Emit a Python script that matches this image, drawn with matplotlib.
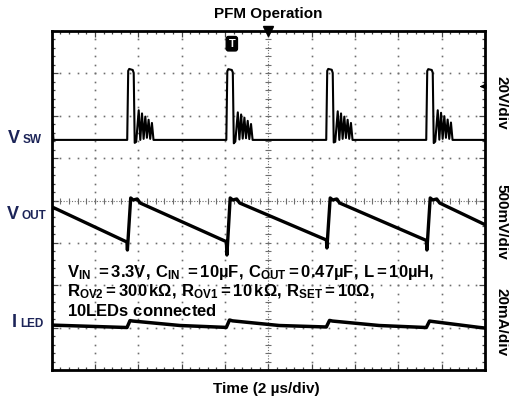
import matplotlib.pyplot as plt
import numpy as np

plt.rcParams['font.family'] = ['Liberation Sans', 'DejaVu Sans']
plt.rcParams['mathtext.fontset'] = 'custom'
plt.rcParams['mathtext.rm'] = 'Liberation Sans:bold'
plt.rcParams['mathtext.bf'] = 'Liberation Sans:bold'
plt.rcParams['mathtext.it'] = 'Liberation Sans:bold'

# Scope settings (2 us/div, 10 x 8 divisions)
time_per_div = 2.0
vsw_per_div, vsw_pos = 20.0, 5.43      # V/div, baseline position (div)
vout_per_div, vout_pos = 500.0, 4.0    # mV/div, ref position (div)
iled_per_div, iled_pos = 20.0, 1.0     # mA/div, ref position (div)

# V_SW trace (us, V)
vsw_t = [0.0, 0.046, 0.09,
         3.493, 3.539, 3.585, 3.747, 3.793, 3.839, 3.908, 4.024, 4.097, 4.176, 4.250, 4.328, 4.402, 4.480, 4.554, 4.633, 4.706,
         8.065, 8.111, 8.157, 8.319, 8.365, 8.411, 8.480, 8.596, 8.669, 8.748, 8.822, 8.900, 8.974, 9.052, 9.126, 9.205, 9.278,
         12.675, 12.721, 12.767, 12.929, 12.975, 13.021, 13.090, 13.206, 13.279, 13.358, 13.432, 13.510, 13.584, 13.662, 13.736, 13.815, 13.888,
         17.289, 17.335, 17.381, 17.543, 17.589, 17.635, 17.704, 17.820, 17.893, 17.972, 18.046, 18.124, 18.198, 18.276, 18.350, 18.429, 18.502,
         20.0]
vsw_v = [1.0, 7.5, 0.0,
         0.0, 32.6, 33.5, 33.0, 31.6, -1.4, -0.9, 14.0, 0.0, 12.5, 0.5, 11.0, 1.0, 9.5, 0.5, 8.0, 0.0,
         0.0, 32.4, 33.4, 33.0, 31.8, -1.6, -0.8, 13.0, 0.2, 12.0, 0.6, 10.5, 0.8, 9.0, 0.4, 7.5, 0.0,
         0.0, 32.6, 33.5, 33.1, 31.6, -1.2, -0.9, 13.5, 0.0, 12.5, 0.5, 11.0, 0.9, 9.5, 0.5, 8.0, 0.0,
         0.0, 32.5, 33.4, 33.0, 31.7, -1.5, -0.8, 14.0, 0.1, 12.8, 0.5, 11.2, 1.0, 9.6, 0.5, 8.2, 0.0,
         0.0]

# V_OUT ripple (us, mV)
vout_t = [0.0,
          3.479, 3.502, 3.654, 3.770, 3.954, 4.093,
          8.069, 8.092, 8.244, 8.360, 8.544, 8.683,
          12.683, 12.706, 12.858, 12.974, 13.158, 13.297,
          17.297, 17.320, 17.472, 17.588, 17.772, 17.911,
          20.0]
vout_mv = [-73,
           -490, -584, 30, 6, 18, -30,
           -486, -643, 30, 6, 18, -30,
           -466, -560, 30, 6, 18, -30,
           -472, -584, 30, 6, 18, -30,
           -285]

# I_LED ripple (us, mA)
iled_t = [0.0, 3.483, 3.622, 3.760, 5.93,
          8.065, 8.213, 8.351, 10.51,
          12.679, 12.827, 12.965, 15.12,
          17.293, 17.441, 17.579, 19.73, 20.0]
iled_ma = [1.2, 0.05, 3.3, 3.1, 1.0,
           0.1, 3.6, 3.2, 1.0,
           0.3, 3.4, 3.1, 1.0,
           0.05, 3.1, 2.9, 0.1, -0.2]

W, H = 509, 405
fig = plt.figure(figsize=(W / 100, H / 100), dpi=100, facecolor='white')
ax = fig.add_axes([51.5 / W, 1 - 370 / H, 433.5 / W, 339 / H])
ax.set_xlim(0, 10 * time_per_div)
ax.set_ylim(0, 8)

# graticule: dotted grid, centre crosshair with ticks
grid_c = '#6e6e6e'
for xv in np.arange(2, 20, 2):
    if xv == 10:
        continue
    ys = np.arange(0, 8.01, 0.2)
    ax.plot(np.full_like(ys, xv), ys, ls='none', marker='s', ms=1.2, color=grid_c, mew=0)
for yv in range(1, 8):
    if yv == 4:
        continue
    xs = np.arange(0, 20.01, 0.4)
    ax.plot(xs, np.full_like(xs, yv), ls='none', marker='s', ms=1.2, color=grid_c, mew=0)
ax.axvline(10, ls=(0, (1, 1.5)), color=grid_c, lw=0.8)
ax.axhline(4, ls=(0, (1, 1.5)), color=grid_c, lw=0.8)
ys = np.arange(0, 8.01, 0.2)
ax.plot(np.full_like(ys, 10), ys, ls='none', marker='_', ms=4, mew=0.8, color=grid_c)
xs = np.arange(0, 20.01, 0.4)
ax.plot(xs, np.full_like(xs, 4), ls='none', marker='|', ms=4, mew=0.8, color=grid_c)

# traces
ax.plot(vsw_t, vsw_pos + np.array(vsw_v) / vsw_per_div, color='black', lw=1.5, zorder=5)
ax.plot(vout_t, vout_pos + np.array(vout_mv) / vout_per_div, color='black', lw=2.4, zorder=5)
ax.plot(iled_t, iled_pos + np.array(iled_ma) / iled_per_div, color='black', lw=2.5, zorder=5)

# frame and edge ticks
for s in ax.spines.values():
    s.set_linewidth(2)
ax.set_xticks(np.arange(0, 21, 2))
ax.set_xticks(np.arange(0, 20.01, 0.4), minor=True)
ax.set_yticks(np.arange(0, 9, 1))
ax.set_yticks(np.arange(0, 8.01, 0.2), minor=True)
ax.tick_params(which='both', direction='in', top=True, right=True,
               labelbottom=False, labelleft=False, color='#444', width=0.9)
ax.tick_params(which='major', length=4)
ax.tick_params(which='minor', length=2.5)

# trigger markers
ax.plot([10], [8], marker='v', ms=7, color='black', clip_on=False, zorder=6)
ax.text(8.32, 7.70, 'T', color='white', fontsize=8, fontweight='bold', ha='center', va='center',
        bbox=dict(boxstyle='round,pad=0.2', fc='black', ec='black'))
ax.annotate('', xy=(19.63, 6.69), xytext=(20.0, 6.69),
            arrowprops=dict(arrowstyle='-|>', color='black', lw=1, mutation_scale=8))

# texts
def fx(x):
    return x / W

def fy(y):
    return 1 - y / H

fig.text(fx(268), fy(14), 'PFM Operation', ha='center', va='center', fontsize=11, fontweight='bold')
fig.text(fx(266), fy(389), 'Time (2 µs/div)', ha='center', va='center', fontsize=11, fontweight='bold')

lab_c = '#1c2458'
fig.text(fx(8), fy(143), 'V', fontsize=13, fontweight='bold', color=lab_c, va='baseline')
fig.text(fx(22.5), fy(143), 'SW', fontsize=8.5, fontweight='bold', color=lab_c, va='baseline')
fig.text(fx(7), fy(219), 'V', fontsize=13, fontweight='bold', color=lab_c, va='baseline')
fig.text(fx(21.5), fy(219), 'OUT', fontsize=8.5, fontweight='bold', color=lab_c, va='baseline')
fig.text(fx(12), fy(327), 'I', fontsize=13, fontweight='bold', color=lab_c, va='baseline')
fig.text(fx(20), fy(327), 'LED', fontsize=8.5, fontweight='bold', color=lab_c, va='baseline')

for label, yc in [('20V/div', 103), ('500mV/div', 222), ('20mA/div', 322)]:
    fig.text(fx(501), fy(yc), label, rotation=270, ha='center', va='center',
             fontsize=11, fontweight='bold')

notes = [r'$\mathbf{V_{IN}\ = 3.3V,\,C_{IN}\ = 10µF,\,C_{OUT} = 0.47µF,\,L = 10µH,}$',
         r'$\mathbf{R_{OV2} = 300\,kΩ,\,R_{OV1} = 10\,kΩ,\,R_{SET} = 10Ω,}$',
         r'$\mathbf{10LEDs\ connected}$']
for i, line in enumerate(notes):
    fig.text(fx(67), fy(277 + 19.5 * i), line, fontsize=12, va='baseline')

fig.savefig('out.png', dpi=100, facecolor='white')
